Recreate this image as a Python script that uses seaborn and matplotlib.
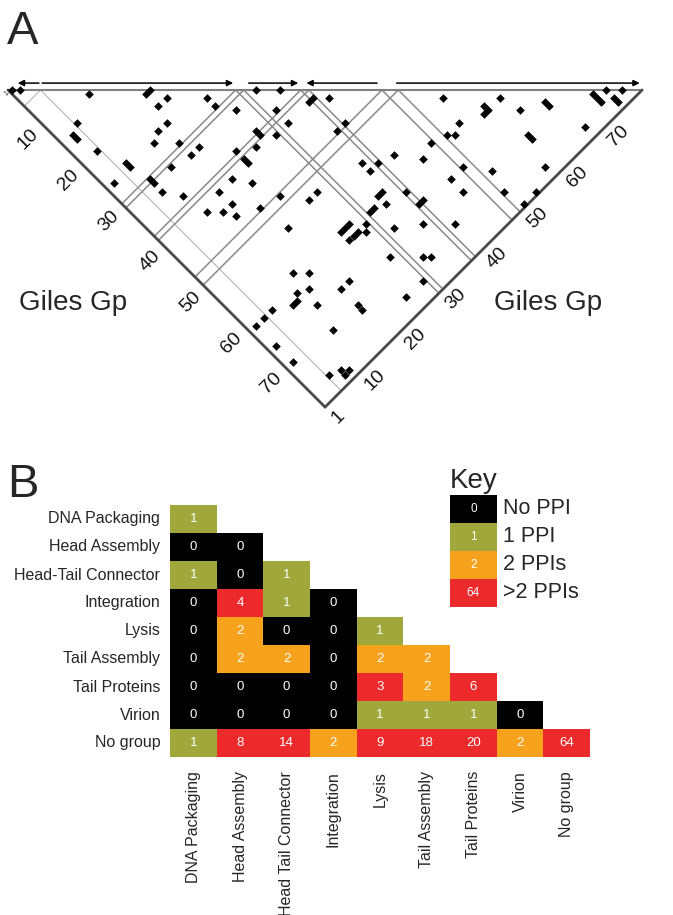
import numpy as np
import pandas as pd
import matplotlib
matplotlib.use("Agg")
import matplotlib.pyplot as plt
import seaborn as sns
from matplotlib.colors import ListedColormap, BoundaryNorm

sns.set_theme(style="white")
plt.rcParams['font.family'] = ['Liberation Sans', 'DejaVu Sans']

# ---------------- Panel A data ----------------
n_genes = 78
ppi_gene_a = [1, 2, 11, 18, 18, 21, 21, 26, 28, 24, 24, 13, 14, 15, 19, 24, 25, 25, 29, 30,
              25, 28, 31, 31, 30, 32, 35, 40, 39, 31, 34, 31, 36, 39, 39, 41, 39, 39, 36, 37,
              46, 46, 36, 38, 39, 38, 39, 42, 42, 42, 44, 46, 47, 52, 51, 51, 53, 55, 55, 56,
              60, 62, 59, 59, 61, 60, 60, 61, 59, 59, 59, 61, 61, 61, 62, 65, 68, 65, 65, 59,
              55, 62, 61, 62, 62, 66, 68, 69, 74, 76, 73, 74, 75, 76, 77, 76, 70, 71, 60, 60,
              61, 66, 70, 76, 66, 69, 74, 78, 78, 72, 68, 72, 73, 58, 60, 61, 62, 62, 62, 65,
              60, 60, 60, 65, 69, 75, 76, 77, 77, 75, 75, 70, 71, 70, 66, 66]
ppi_gene_b = [1, 2, 10, 17, 18, 17, 19, 24, 24, 16, 14, 5, 3, 3, 4, 6, 6, 2, 7, 7,
              12, 15, 15, 17, 11, 7, 9, 10, 14, 31, 34, 26, 31, 36, 37, 39, 31, 28, 26, 26,
              38, 36, 21, 21, 21, 24, 17, 19, 14, 12, 13, 17, 21, 18, 24, 26, 35, 35, 37, 40,
              43, 37, 33, 34, 33, 30, 31, 28, 24, 25, 26, 24, 25, 26, 27, 31, 35, 37, 38, 46,
              53, 60, 57, 57, 56, 61, 65, 65, 74, 76, 72, 72, 72, 74, 74, 67, 59, 59, 52, 49,
              50, 47, 50, 57, 44, 44, 49, 53, 50, 39, 27, 31, 32, 13, 15, 11, 13, 9, 10, 12,
              6, 4, 2, 2, 2, 5, 7, 7, 8, 28, 24, 17, 17, 11, 17, 19]
cluster_boundaries = [4, 28, 29, 36, 37, 46, 48]
faint_boundaries = [4]
operon_starts = [3.8, 4.2, 29.6, 45.4, 47.8]
operon_ends = [1.2, 27.7, 35.7, 36.7, 77.7]
left_ticks = [10, 20, 30, 40, 50, 60, 70]
right_ticks = [1, 10, 20, 30, 40, 50, 60, 70]
axis_title = "Giles Gp"

# ---------------- Panel B data ----------------
row_groups = ["DNA Packaging", "Head Assembly", "Head-Tail Connector", "Integration", "Lysis",
              "Tail Assembly", "Tail Proteins", "Virion", "No group"]
col_groups = ["DNA Packaging", "Head Assembly", "Head Tail Connector", "Integration", "Lysis",
              "Tail Assembly", "Tail Proteins", "Virion", "No group"]
ppi_dna_packaging = [1]
ppi_head_assembly = [0, 0]
ppi_head_tail = [1, 0, 1]
ppi_integration = [0, 4, 1, 0]
ppi_lysis = [0, 2, 0, 0, 1]
ppi_tail_assembly = [0, 2, 2, 0, 2, 2]
ppi_tail_proteins = [0, 0, 0, 0, 3, 2, 6]
ppi_virion = [0, 0, 0, 0, 1, 1, 1, 0]
ppi_no_group = [1, 8, 14, 2, 9, 18, 20, 2, 64]
key_values = [0, 1, 2, 64]
key_labels = ["No PPI", "1 PPI", "2 PPIs", ">2 PPIs"]

colors = ["#000000", "#A0A73B", "#F7A21D", "#EC2A2B"]
cmap = ListedColormap(colors)
norm = BoundaryNorm([-0.5, 0.5, 1.5, 2.5, 1e6], 4)

W, H, DPI = 673, 915, 100
fig = plt.figure(figsize=(W / DPI, H / DPI), dpi=DPI)
fig.patch.set_facecolor("white")

# ---------------- Panel A ----------------
PX = 8.13  # pixels per gene unit
x0_px, y0_px = 8, 90
axA_h = 450
axA = fig.add_axes([0, 1 - axA_h / H, 1, axA_h / H])
axA.set_xlim(-x0_px / PX, (W - x0_px) / PX)
axA.set_ylim(-(axA_h - y0_px) / PX, y0_px / PX)
axA.axis("off")

N = n_genes


def to_xy(s, t):
    s = np.asarray(s, float)
    t = np.asarray(t, float)
    return (s + t) / 2.0, (t - s) / 2.0


# grid lines at cluster boundaries
for g in cluster_boundaries:
    c = "#b5b5b5" if g in faint_boundaries else "#8a8a8a"
    lw = 0.8 if g in faint_boundaries else 1.1
    xs, ys = to_xy([g, N], [g, g])
    axA.plot(xs, ys, color=c, lw=lw, zorder=1)
    xs, ys = to_xy([g, g], [0, g])
    axA.plot(xs, ys, color=c, lw=lw, zorder=1)

# triangle edges
xs, ys = to_xy([0, N], [0, N])
axA.plot(xs, ys, color="#808080", lw=1.5, zorder=2)
xs, ys = to_xy([0, N], [0, 0])
axA.plot(xs, ys, color="#4a4a4a", lw=2.0, zorder=2)
xs, ys = to_xy([N, N], [0, N])
axA.plot(xs, ys, color="#4a4a4a", lw=2.0, zorder=2)

# interaction diamonds
fig.canvas.draw()
p0 = axA.transData.transform((0, 0))
p1 = axA.transData.transform((1, 0))
unit_pt = (p1[0] - p0[0]) * 72.0 / DPI
marker_s = (unit_pt / np.sqrt(2) * 1.06) ** 2
dx, dy = to_xy(np.array(ppi_gene_a) - 0.5, np.array(ppi_gene_b) - 0.5)
sns.scatterplot(x=dx, y=dy, marker="D", s=marker_s, color="black", linewidth=0,
                ax=axA, legend=False, zorder=3)
axA.set_xlim(-x0_px / PX, (W - x0_px) / PX)
axA.set_ylim(-(axA_h - y0_px) / PX, y0_px / PX)
axA.axis("off")

# operon arrows
for st, en in zip(operon_starts, operon_ends):
    axA.annotate("", xy=(en, 0.85), xytext=(st, 0.85),
                 arrowprops=dict(arrowstyle="-|>", color="black", lw=1.1,
                                 mutation_scale=9, shrinkA=0, shrinkB=0))

# tick labels
for g in left_ticks:
    x, y = to_xy(g - 0.5, 0)
    axA.text(x - 2.3, y - 1.35, str(g), rotation=45, ha="center", va="center",
             fontsize=14, color="#111111")
x, y = to_xy(0.5, 0)
axA.text(x - 0.45, y - 0.2, "1", rotation=45, ha="center", va="center", fontsize=5)
for g in right_ticks:
    x, y = to_xy(N, g - 0.5)
    axA.text(x + 1.35, y - 1.45, str(g), rotation=45, ha="center", va="center",
             fontsize=14, color="#111111")

axA.text(8.0, -26.2, axis_title, ha="center", va="center", fontsize=20)
axA.text(66.4, -26.2, axis_title, ha="center", va="center", fontsize=20)

# ---------------- Panel B ----------------
rows_data = [ppi_dna_packaging, ppi_head_assembly, ppi_head_tail, ppi_integration, ppi_lysis,
             ppi_tail_assembly, ppi_tail_proteins, ppi_virion, ppi_no_group]
counts = np.full((9, 9), np.nan)
for i, r in enumerate(rows_data):
    counts[i, :len(r)] = r
df = pd.DataFrame(counts, index=row_groups, columns=col_groups)

axB = fig.add_axes([170 / W, 1 - 757 / H, 420 / W, 252 / H])
sns.heatmap(df, mask=np.isnan(counts), cmap=cmap, norm=norm, annot=True, fmt=".0f",
            annot_kws={"color": "white", "fontsize": 9.5}, cbar=False, ax=axB,
            linewidths=0)
axB.set_yticklabels(row_groups, rotation=0, fontsize=11.5)
axB.set_xticklabels(col_groups, rotation=90, fontsize=11.5)
axB.tick_params(axis="both", length=0)
axB.tick_params(axis="y", pad=7)
axB.tick_params(axis="x", pad=10)
axB.set_xlabel("")
axB.set_ylabel("")
axB.patch.set_alpha(0)

# key
axK = fig.add_axes([450 / W, 1 - 607 / H, 47 / W, 112 / H])
kdf = pd.DataFrame({"v": key_values})
sns.heatmap(kdf, cmap=cmap, norm=norm, annot=True, fmt="d",
            annot_kws={"color": "white", "fontsize": 8.5}, cbar=False, ax=axK,
            xticklabels=False, yticklabels=False)
for i, lab in enumerate(key_labels):
    axK.text(1.13, i + 0.5, lab, ha="left", va="center", fontsize=15.5)
axK.text(0.0, -0.25, "Key", ha="left", va="baseline", fontsize=20)

# panel letters
fig.text(7 / W, 1 - 44 / H, "A", fontsize=34, ha="left", va="baseline")
fig.text(7 / W, 1 - 497 / H, "B", fontsize=34, ha="left", va="baseline")

fig.savefig("out.png", dpi=DPI, facecolor="white")
